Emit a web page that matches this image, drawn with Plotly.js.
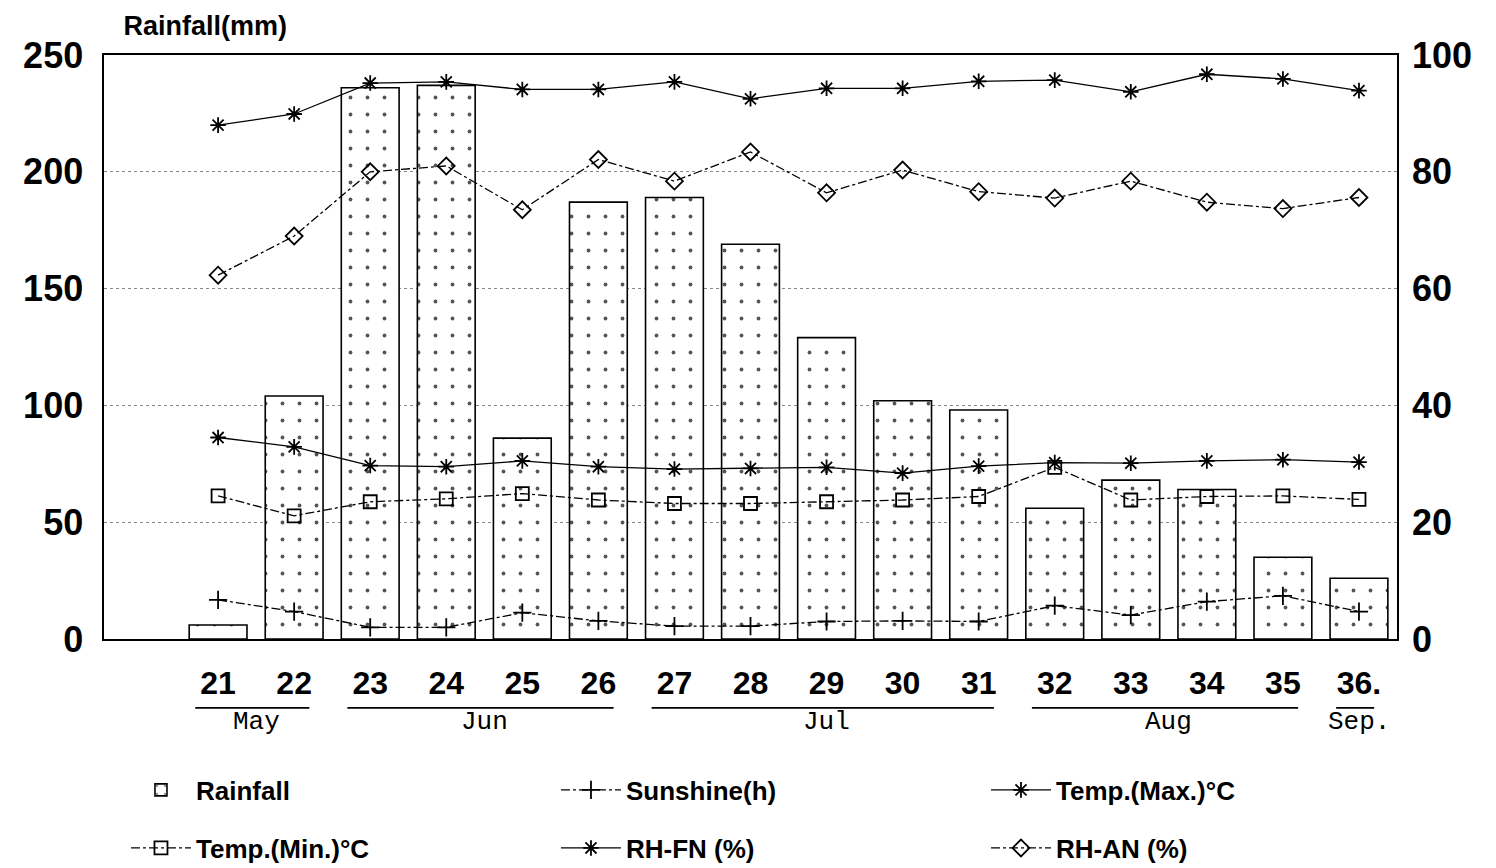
<!DOCTYPE html>
<html>
<head>
<meta charset="utf-8">
<script src="https://cdn.plot.ly/plotly-3.0.1.min.js"></script>
<style>html,body{margin:0;padding:0;background:#fff;}#chart{width:1496px;height:868px;}</style>
</head>
<body>
<div id="chart"></div>
<script>
// ---- data ----
const weeks = [21,22,23,24,25,26,27,28,29,30,31,32,33,34,35,36];
const weekLabels = ['21','22','23','24','25','26','27','28','29','30','31','32','33','34','35','36.'];
const rainfall = [6, 104, 236, 237, 86, 187, 189, 169, 129, 102, 98, 56, 68, 64, 35, 26];
const sunshine = [6.7, 4.7, 2.0, 2.0, 4.5, 3.1, 2.2, 2.2, 3.0, 3.1, 3.0, 5.7, 4.1, 6.4, 7.4, 4.7];
const tempMax = [34.5, 32.9, 29.7, 29.5, 30.5, 29.5, 29.1, 29.2, 29.4, 28.4, 29.6, 30.2, 30.1, 30.5, 30.7, 30.3];
const tempMin = [24.5, 21.1, 23.5, 24.0, 24.9, 23.8, 23.2, 23.2, 23.5, 23.8, 24.4, 29.4, 23.8, 24.4, 24.5, 23.9];
const rhFN = [88.0, 89.9, 95.2, 95.4, 94.1, 94.1, 95.4, 92.5, 94.3, 94.3, 95.5, 95.7, 93.7, 96.7, 95.9, 93.9];
const rhAN = [62.3, 69.0, 80.0, 81.0, 73.5, 82.1, 78.4, 83.4, 76.4, 80.3, 76.6, 75.5, 78.4, 74.8, 73.7, 75.6];
const months = ['May','Jun','Jul','Aug','Sep.'];
const monthFirstWeek = [21, 23, 27, 32, 36];
const monthLastWeek = [22, 26, 31, 35, 36];
const leftTicks = [0, 50, 100, 150, 200, 250];
const rightTicks = [0, 20, 40, 60, 80, 100];

const boldFont = 'Liberation Sans, Arial, sans-serif';
const legendFont = {family: boldFont, size: 26, color: '#000', weight: 'bold'};

function lineTrace(name, y, symbol, dash, legend) {
  return {
    type: 'scatter', mode: 'lines+markers', name: name, x: weeks, y: y, yaxis: 'y2',
    legend: legend,
    line: {color: '#000', width: 1.3, dash: dash},
    marker: {symbol: symbol, size: 13, color: '#000', line: {color: '#000', width: 1.8}}
  };
}

const traces = [
  {
    type: 'bar', name: 'Rainfall', x: weeks, y: rainfall, width: 0.76, legend: 'legend',
    marker: {color: '#fff', line: {color: '#000', width: 1.6},
      pattern: {shape: '.', fgcolor: '#555', bgcolor: '#fff', size: 17, solidity: 0.04}}
  },
  lineTrace('Sunshine(h)', sunshine, 'cross-thin-open', 'dashdot', 'legend'),
  lineTrace('Temp.(Max.)°C', tempMax, 'asterisk-open', 'solid', 'legend'),
  lineTrace('Temp.(Min.)°C', tempMin, 'square-open', 'dashdot', 'legend2'),
  lineTrace('RH-FN (%)', rhFN, 'asterisk-open', 'solid', 'legend2'),
  lineTrace('RH-AN (%)', rhAN, 'diamond-open', 'dashdot', 'legend2')
];

const shapes = months.map((m, i) => ({
  type: 'line', xref: 'x', yref: 'paper',
  x0: monthFirstWeek[i] - 0.3, x1: monthLastWeek[i] + 0.2, y0: -0.118, y1: -0.118,
  line: {color: '#000', width: 1.6}
}));
const annotations = months.map((m, i) => ({
  text: m, xref: 'x', yref: 'paper', x: (monthFirstWeek[i] + monthLastWeek[i]) / 2, y: -0.142,
  xanchor: 'center', yanchor: 'middle', showarrow: false,
  font: {family: 'Liberation Mono, DejaVu Sans Mono, monospace', size: 26, color: '#000'}
}));

const legendCommon = {
  orientation: 'h', xref: 'paper', yref: 'paper', x: 0.017, xanchor: 'left', yanchor: 'middle',
  entrywidth: 355, entrywidthmode: 'pixels', itemwidth: 60, font: legendFont,
  bgcolor: 'rgba(0,0,0,0)', borderwidth: 0
};

const layout = {
  width: 1496, height: 868,
  margin: {l: 104, r: 99, t: 55, b: 229, autoexpand: false},
  paper_bgcolor: '#fff', plot_bgcolor: '#fff',
  showlegend: true,
  title: {text: 'Rainfall(mm)', xref: 'paper', x: 0.015, xanchor: 'left', yref: 'container', y: 0.97, yanchor: 'middle',
    font: {family: boldFont, size: 27, color: '#000', weight: 'bold'}},
  xaxis: {
    range: [19.5, 36.5], tickmode: 'array', tickvals: weeks, ticktext: weekLabels,
    showline: true, mirror: true, linecolor: '#000', linewidth: 1.6, showgrid: false, zeroline: false,
    ticks: '', ticklabelstandoff: 15, automargin: false,
    tickfont: {family: boldFont, size: 32, color: '#000', weight: 'bold'}
  },
  yaxis: {
    range: [0, 250], tickmode: 'array', tickvals: leftTicks, automargin: false,
    showline: true, mirror: true, linecolor: '#000', linewidth: 1.6, zeroline: false,
    showgrid: true, gridcolor: '#888', griddash: 'dot', gridwidth: 1,
    ticks: '', ticklabelstandoff: 12,
    tickfont: {family: boldFont, size: 36, color: '#000', weight: 'bold'}
  },
  yaxis2: {
    range: [0, 100], overlaying: 'y', side: 'right', tickmode: 'array', tickvals: rightTicks, automargin: false,
    showline: false, showgrid: false, zeroline: false, ticks: '', ticklabelstandoff: 14,
    tickfont: {family: boldFont, size: 36, color: '#000', weight: 'bold'}
  },
  legend: Object.assign({}, legendCommon, {y: -0.2586}),
  legend2: Object.assign({}, legendCommon, {y: -0.358}),
  shapes: shapes,
  annotations: annotations,
  bargap: 0.2
};

Plotly.newPlot('chart', traces, layout, {displayModeBar: false, staticPlot: true});
</script>
</body>
</html>
